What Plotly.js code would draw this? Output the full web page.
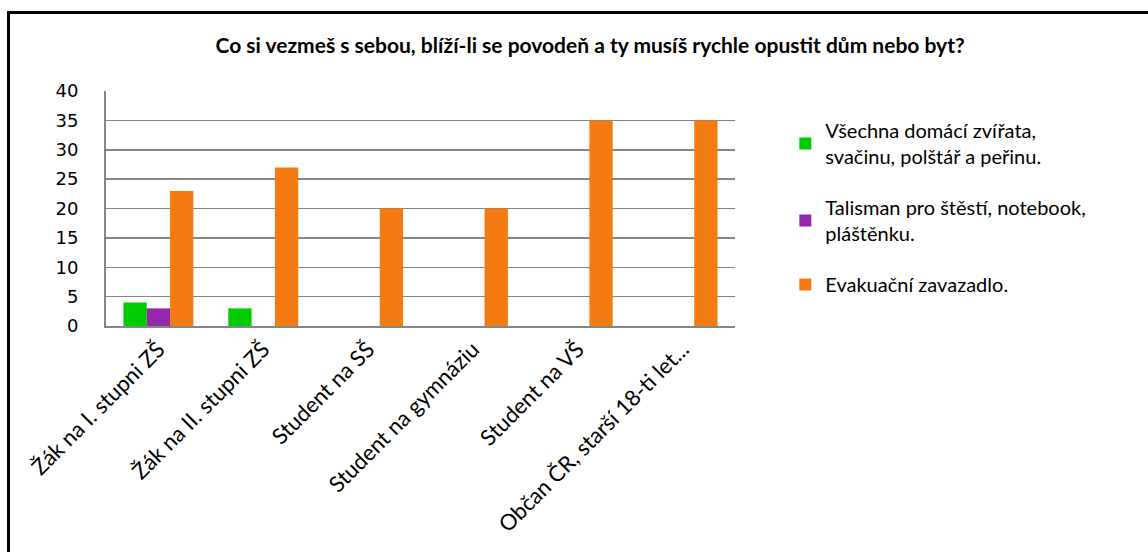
<!DOCTYPE html>
<html><head><meta charset="utf-8">
<script src="https://cdn.plot.ly/plotly-3.0.1.min.js"></script>
<style>
html,body{margin:0;padding:0;background:#fff;}
#wrap{position:relative;width:1148px;height:552px;}
#chart{width:1148px;height:552px;}
#bl{position:absolute;left:7px;top:11px;width:3px;height:541px;background:#000;}
#bt{position:absolute;left:7px;top:11px;width:1141px;height:3px;background:#000;}
</style></head>
<body><div id="wrap"><div id="chart"></div><div id="bl"></div><div id="bt"></div></div>
<script>
const categories = ["Žák na I. stupni ZŠ","Žák na II. stupni ZŠ","Student na SŠ","Student na gymnáziu","Student na VŠ","Občan ČR, starší 18-ti let..."];
const seriesNames = ["Všechna domácí zvířata,<br>svačinu, polštář a peřinu.","Talisman pro štěstí, notebook,<br>pláštěnku.","Evakuační zavazadlo."];
const valuesAnimals = [4,3,0,0,0,0];
const valuesTalisman = [3,0,0,0,0,0];
const valuesBag = [23,27,20,20,35,35];
const yTicks = [0,5,10,15,20,25,30,35,40];
const colors = ["#00CC00","#9328A8","#F47A12"];

const allVals=[valuesAnimals,valuesTalisman,valuesBag];
const traces = allVals.map((v,i)=>({
  type:'bar', x:categories, y:v, name:seriesNames[i],
  marker:{color:colors[i]}, legendgroup:'g'+i, hoverinfo:'skip'
}));
const layout = {
  width:1148, height:552,
  margin:{l:106,r:413,t:91,b:226,pad:0},
  paper_bgcolor:'#fff', plot_bgcolor:'#fff',
  barmode:'group', bargap:0.333, bargroupgap:0,
  title:{text:"<b>Co si vezmeš s sebou, blíží-li se povodeň a ty musíš rychle opustit dům nebo byt?</b>",
    font:{family:"Lato, sans-serif",size:21,color:'#000'},
    x:0.514, xanchor:'center', y:0.918, yanchor:'middle'},
  xaxis:{type:'category', tickangle:-45, showgrid:false, showline:true, linecolor:'#868686', linewidth:2,
    ticks:'', tickfont:{family:"Lato, sans-serif",size:22,color:'#000'}, automargin:false},
  yaxis:{range:[0,40], tickvals:yTicks, showgrid:true, gridcolor:'#868686', gridwidth:1.5,
    showline:true, linecolor:'#868686', linewidth:2, zeroline:false, ticks:'',
    ticklabelstandoff:22,
    tickfont:{family:"DejaVu Sans, sans-serif",size:18,color:'#000'}, automargin:false},
  showlegend:true,
  legend:{x:1.08, xanchor:'left', y:0.915, yanchor:'top', traceorder:'grouped', tracegroupgap:22,
    font:{family:"Lato, sans-serif",size:20,color:'#000'}, itemwidth:30, itemclick:false,
    bgcolor:'rgba(0,0,0,0)'}
};
Plotly.newPlot('chart', traces, layout, {displayModeBar:false, staticPlot:true});
</script></body></html>
